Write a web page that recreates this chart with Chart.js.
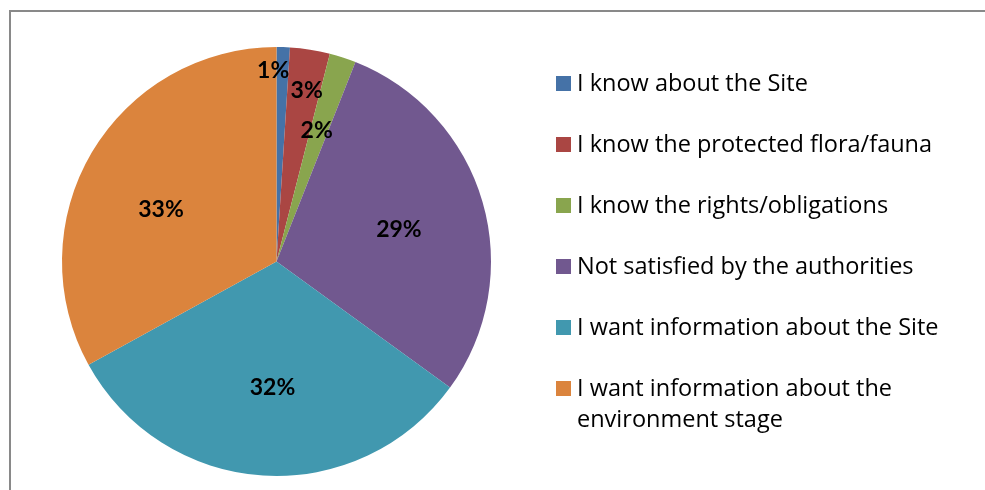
<!DOCTYPE html>
<html lang="en">
<head>
<meta charset="UTF-8">
<title>Pie chart</title>
<script src="https://cdn.jsdelivr.net/npm/chart.js"></script>
<style>
  html, body { margin: 0; padding: 0; background: #fff; }
  #wrap { width: 985px; height: 490px; }
</style>
</head>
<body>
<div id="wrap"><canvas id="myChart" width="985" height="490"></canvas></div>
<script>
// data
const categories = [
  'I know about the Site',
  'I know the protected flora/fauna',
  'I know the rights/obligations',
  'Not satisfied by the authorities',
  'I want information about the Site',
  'I want information about the environment stage'
];
const shares = [1, 3, 2, 29, 32, 33];
const colors = ['#4572A7', '#AA4643', '#89A54E', '#71588F', '#4198AF', '#DB843D'];

// label placement: [radius fraction, angle shift in degrees]
const labelPlace = [[0.89, -2.8], [0.81, 1], [0.64, -1], [0.59, 1.5], [0.59, -1.8], [0.59, -6.5]];

const frame = {
  id: 'frame',
  beforeDraw(chart) {
    const ctx = chart.ctx;
    ctx.save();
    ctx.fillStyle = '#fff';
    ctx.fillRect(0, 0, chart.width, chart.height);
    ctx.strokeStyle = '#898989';
    ctx.lineWidth = 2;
    ctx.strokeRect(10, 11, 1200, 800);
    ctx.restore();
  }
};

const sliceLabels = {
  id: 'sliceLabels',
  afterDatasetsDraw(chart) {
    const ctx = chart.ctx;
    const meta = chart.getDatasetMeta(0);
    ctx.save();
    ctx.font = 'bold 23px Lato';
    ctx.fillStyle = '#000';
    ctx.textAlign = 'center';
    ctx.textBaseline = 'middle';
    meta.data.forEach((arc, i) => {
      const p = arc.getProps(['x', 'y', 'startAngle', 'endAngle', 'outerRadius'], true);
      const a = (p.startAngle + p.endAngle) / 2 + labelPlace[i][1] * Math.PI / 180;
      const r = p.outerRadius * labelPlace[i][0];
      ctx.fillText(shares[i] + '%', p.x + Math.cos(a) * r, p.y + Math.sin(a) * r);
    });
    ctx.restore();
  }
};

const sideLegend = {
  id: 'sideLegend',
  afterDraw(chart) {
    const ctx = chart.ctx;
    const boxX = 556, textX = 577, firstY = 83, step = 61, lineH = 31, maxW = 380;
    ctx.save();
    ctx.font = '23.5px "Open Sans"';
    ctx.textBaseline = 'middle';
    ctx.textAlign = 'left';
    chart.data.labels.forEach((label, i) => {
      const y = firstY + i * step;
      ctx.fillStyle = colors[i];
      ctx.fillRect(boxX, y - 7, 15, 15);
      // simple word wrap
      const words = label.split(' ');
      const lines = [];
      let cur = '';
      words.forEach(w => {
        const test = cur ? cur + ' ' + w : w;
        if (ctx.measureText(test).width > maxW && cur) {
          lines.push(cur);
          cur = w;
        } else {
          cur = test;
        }
      });
      lines.push(cur);
      ctx.fillStyle = '#000';
      lines.forEach((ln, j) => ctx.fillText(ln, textX, y + 1 + j * lineH));
    });
    ctx.restore();
  }
};

const ctx = document.getElementById('myChart').getContext('2d');
new Chart(ctx, {
  type: 'pie',
  data: {
    labels: categories,
    datasets: [{
      data: shares,
      backgroundColor: colors,
      borderWidth: 0
    }]
  },
  options: {
    responsive: false,
    animation: false,
    layout: { padding: { left: 62, right: 494, top: 47, bottom: 14 } },
    plugins: {
      legend: { display: false },
      tooltip: { enabled: false }
    }
  },
  plugins: [frame, sliceLabels, sideLegend]
});
</script>
</body>
</html>
